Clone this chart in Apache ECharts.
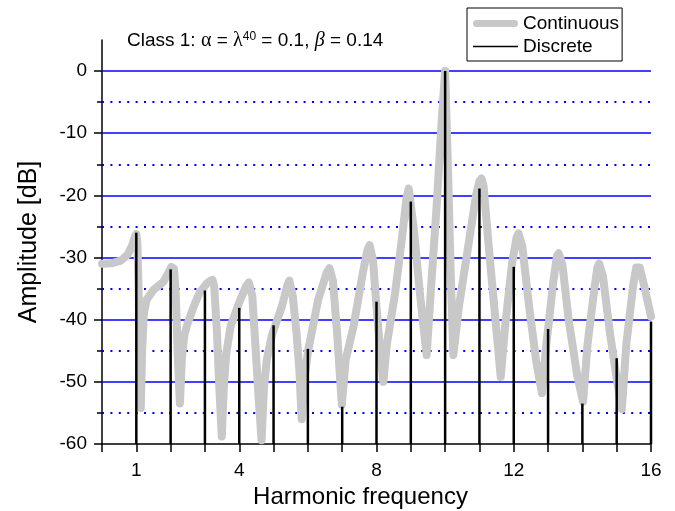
<!DOCTYPE html>
<html>
<head>
<meta charset="utf-8">
<script src="https://cdn.jsdelivr.net/npm/echarts@6.0.0/dist/echarts.min.js"></script>
<style>
    html, body { margin: 0; padding: 0; background: #fff; }
    #main { width: 675px; height: 511px; }
</style>
</head>
<body>
<div id="main"></div>
<script>
/* harmonic lines (discrete) */
var harmonics = [1, 2, 3, 4, 5, 6, 7, 8, 9, 10, 11, 12, 13, 14, 15, 16];
var discreteDb = [-26, -31.9, -35.3, -38.1, -40.9, -44.7, -54, -37.1, -21, 0, -18.9, -31.5, -41.5, -53.5, -46.2, -40.3];

/* continuous spectrum */
var contX = [
    0, 0.3, 0.55, 0.75, 0.88, 0.96, 1.0, 1.03, 1.07, 1.1, 1.13, 1.17, 1.22, 1.3, 1.5, 1.79, 1.95, 2.02, 2.06, 2.1, 2.15,
    2.21, 2.27, 2.33, 2.4, 2.5, 2.7, 2.86, 3.05, 3.16, 3.22, 3.27, 3.35, 3.42, 3.49, 3.55, 3.62, 3.75, 4.0, 4.2, 4.28, 4.33, 4.38,
    4.47, 4.57, 4.65, 4.72, 4.8, 4.95, 5.24, 5.4, 5.46, 5.5, 5.56, 5.67, 5.75, 5.82, 5.92, 6.01, 6.3, 6.55, 6.63, 6.67, 6.73, 6.85,
    6.99, 7.1, 7.33, 7.6, 7.74, 7.8, 7.84, 7.9, 8.0, 8.1, 8.2, 8.3, 8.54, 8.75, 8.88, 8.94, 8.99, 9.1, 9.25, 9.46, 9.6,
    9.75, 9.9, 10.0, 10.08, 10.16, 10.24, 10.4, 10.65, 10.9, 11.0, 11.06, 11.12, 11.3, 11.5, 11.62, 11.75, 11.95, 12.08, 12.14, 12.19, 12.25, 12.45,
    12.65, 12.82, 12.95, 13.15, 13.26, 13.31, 13.36, 13.42, 13.6, 13.85, 14.02, 14.15, 14.35, 14.44, 14.49, 14.54, 14.6, 14.8, 15.0, 15.15, 15.28, 15.48,
    15.57, 15.62, 15.67, 15.8, 16.0
];
var contDb = [
    -31, -30.9, -30.5, -29.5, -28, -26.6, -26.2, -27.5, -36, -46, -54.2, -45, -39, -36.8, -35.2, -33.9, -32.3, -31.5, -31.3, -31.8, -36,
    -46, -53.5, -46, -42.5, -40.5, -37.5, -35.5, -34.2, -33.7, -33.6, -34.6, -42, -51, -58.8, -51, -45.5, -41, -37.2, -34.6, -34, -34, -36.2,
    -44, -53, -59.4, -51, -46.5, -42.5, -37.9, -34.5, -33.7, -33.7, -36.2, -42.2, -48, -56, -48.5, -44.9, -36.8, -32.4, -31.7, -31.8, -33.7, -42,
    -53.7, -46.5, -41.1, -32.5, -28.7, -28, -28.2, -30.5, -38, -44.5, -50, -44, -35.8, -26.5, -20.2, -18.9, -19.2, -26, -35, -45.7, -34,
    -22, -8, 0, -15, -32, -45.7, -38, -29, -20, -17.7, -17.3, -18.5, -30, -42, -49.2, -41, -31, -26.8, -26.1, -26.3, -28.2, -38,
    -46.5, -51.8, -44, -34, -29.7, -29.3, -29.5, -31.2, -40, -49, -53.2, -44, -35, -31.5, -31, -31.2, -33, -42, -49.5, -54.4, -44, -34.5,
    -31.6, -31.3, -31.6, -34.5, -39.5
];

/* axes */
var yMajorTicks = [-60, -50, -40, -30, -20, -10, 0];
var yMinorTicks = [-55, -45, -35, -25, -15, -5];
var xLabelTicks = [1, 4, 8, 12, 16];
var solidGridDb = [-50, -40, -30, -20, -10, 0];
var dottedGridDb = [-55, -45, -35, -25, -15, -5];

var contData = contX.map(function (x, i) { return [x, contDb[i]]; });
var discreteData = harmonics.map(function (h, i) { return [h, discreteDb[i]]; });

var gridLines = solidGridDb.map(function (v) {
    return { yAxis: v, lineStyle: { color: '#0000ff', width: 1.5, type: 'solid' } };
}).concat(dottedGridDb.map(function (v) {
    return { yAxis: v, lineStyle: { color: '#0000ff', width: 2, type: [2, 6.4] } };
}));

var FONT = 'Arial, "Liberation Sans", sans-serif';
var SERIF = '"Liberation Serif", "DejaVu Serif", serif';

var option = {
    animation: false,
    backgroundColor: '#ffffff',
    textStyle: { fontFamily: FONT, color: '#000' },
    title: {
        text: 'Class 1: {g|α} = {g|λ}{sup|40} = 0.1, {it|β} = 0.14',
        left: 127,
        top: 31,
        padding: 0,
        textStyle: {
            fontFamily: FONT,
            fontSize: 19,
            fontWeight: 'normal',
            color: '#000',
            rich: {
                g: { fontFamily: SERIF, fontSize: 20, color: '#000' },
                sup: { fontSize: 12, lineHeight: 12, padding: [0, 0, 9, 0], color: '#000', fontFamily: FONT },
                it: { fontStyle: 'italic', fontFamily: SERIF, fontSize: 20, color: '#000' }
            }
        }
    },
    legend: {
        orient: 'vertical',
        left: 467,
        top: 8,
        padding: [6, 3, 5, 6],
        itemGap: 4,
        itemWidth: 45,
        itemHeight: 19,
        borderColor: '#000',
        borderWidth: 1,
        selectedMode: false,
        itemStyle: { borderWidth: 0 },
        textStyle: { fontFamily: FONT, fontSize: 19, color: '#000' },
        data: [
            { name: 'Continuous', icon: 'path://M3.5,0H41.5A3.5,3.5,0,0,1,41.5,7H3.5A3.5,3.5,0,0,1,3.5,0Z' },
            { name: 'Discrete', icon: 'path://M0,0H45V1.6H0Z' }
        ]
    },
    grid: {
        left: 102,
        right: 24,
        top: 40,
        bottom: 67,
        containLabel: false,
        outerBoundsMode: 'none'
    },
    xAxis: {
        type: 'value',
        min: 0,
        max: 16,
        interval: 1,
        name: 'Harmonic frequency',
        nameLocation: 'middle',
        nameGap: 41,
        nameTextStyle: { fontFamily: FONT, fontSize: 24, color: '#000', padding: [0, 32, 0, 0] },
        axisLine: { onZero: false, lineStyle: { color: '#000', width: 1.5 } },
        axisTick: { length: 8, lineStyle: { color: '#000', width: 1.5 } },
        axisLabel: { customValues: xLabelTicks, fontFamily: FONT, fontSize: 19, color: '#000', margin: 17 },
        splitLine: { show: false }
    },
    yAxis: [
        {
            type: 'value',
            min: -60,
            max: 5,
            position: 'left',
            name: 'Amplitude [dB]',
            nameLocation: 'middle',
            nameGap: 60,
            nameTextStyle: { fontFamily: FONT, fontSize: 25, color: '#000' },
            axisLine: { show: true, onZero: false, lineStyle: { color: '#000', width: 1.5 } },
            axisTick: { show: true, customValues: yMajorTicks, length: 8, lineStyle: { color: '#000', width: 1.5 } },
            axisLabel: { customValues: yMajorTicks, fontFamily: FONT, fontSize: 19, color: '#000', margin: 15 },
            splitLine: { show: false }
        },
        {
            type: 'value',
            min: -60,
            max: 5,
            position: 'left',
            axisLine: { show: false, onZero: false },
            axisTick: { show: true, customValues: yMinorTicks, length: 5, lineStyle: { color: '#000', width: 1.5 } },
            axisLabel: { show: false },
            splitLine: { show: false }
        }
    ],
    series: [
        {
            name: 'Continuous',
            type: 'line',
            data: contData,
            color: '#c8c8c8',
            symbol: 'none',
            showSymbol: false,
            z: 2,
            lineStyle: { color: '#c8c8c8', width: 8, cap: 'round', join: 'round' },
            markLine: {
                silent: true,
                z: 1,
                symbol: ['none', 'none'],
                label: { show: false },
                emphasis: { disabled: true },
                data: gridLines
            }
        },
        {
            name: 'Discrete',
            type: 'custom',
            data: discreteData,
            color: '#000',
            z: 3,
            encode: { x: 0, y: 1 },
            renderItem: function (params, api) {
                var top = api.coord([api.value(0), api.value(1)]);
                var base = api.coord([api.value(0), -60]);
                return {
                    type: 'line',
                    shape: { x1: top[0], y1: top[1], x2: base[0], y2: base[1] },
                    style: { stroke: '#000', lineWidth: 2.5 }
                };
            }
        }
    ]
};

var chart = echarts.init(document.getElementById('main'));
chart.setOption(option);
</script>
</body>
</html>
